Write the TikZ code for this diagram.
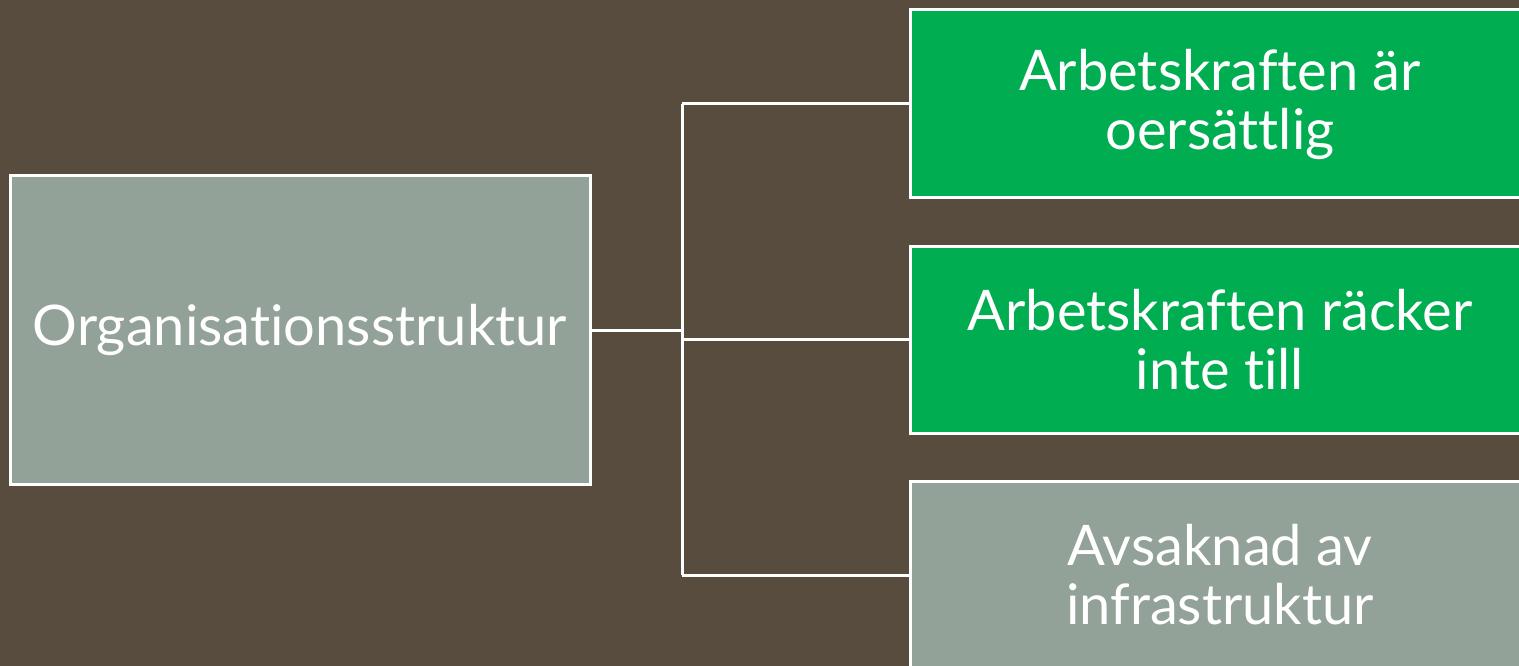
\documentclass[tikz,border=0pt]{standalone}
\usepackage{fontspec}
\setmainfont{Lato}[Ligatures=NoCommon]
\definecolor{bgbrown}{RGB}{88,76,62}
\definecolor{boxgreen}{RGB}{0,173,80}
\definecolor{boxgray}{RGB}{147,162,152}
\tikzset{
  box/.style={draw=white, line width=3pt, text=white, align=center, inner sep=0pt,
    font=\fontsize{56}{59}\selectfont},
  conn/.style={draw=white, line width=3pt}
}
\begin{document}
\begin{tikzpicture}[x=1pt,y=-1pt]
\useasboundingbox (0,0) rectangle (1519,666);
\clip (0,0) rectangle (1519,666);
\fill[bgbrown] (0,0) rectangle (1519,666);
\node[box, fill=boxgray, minimum width=580pt, minimum height=308pt] (org) at (300,330) {Organisationsstruktur};
\node[box, fill=boxgreen, minimum width=620pt, minimum height=188pt] (a1) at (1220,104) {Arbetskraften är\\oersättlig};
\node[box, fill=boxgreen, minimum width=620pt, minimum height=187pt] (a2) at (1220,339.5) {Arbetskraften räcker\\inte till};
\node[box, fill=boxgray, minimum width=620pt, minimum height=188pt] (a3) at (1220,575) {Avsaknad av\\infrastruktur};
\coordinate (jo) at (682,330);
\coordinate (jt) at (682,104);
\coordinate (jm) at (682,339.5);
\coordinate (jb) at (682,575);
\draw[conn] (org.east) -- (jo);
\draw[conn] (jt) -- (jb);
\draw[conn] (jt) -- (a1.west);
\draw[conn] (jm) -- (a2.west);
\draw[conn] (jb) -- (a3.west);
\end{tikzpicture}
\end{document}
